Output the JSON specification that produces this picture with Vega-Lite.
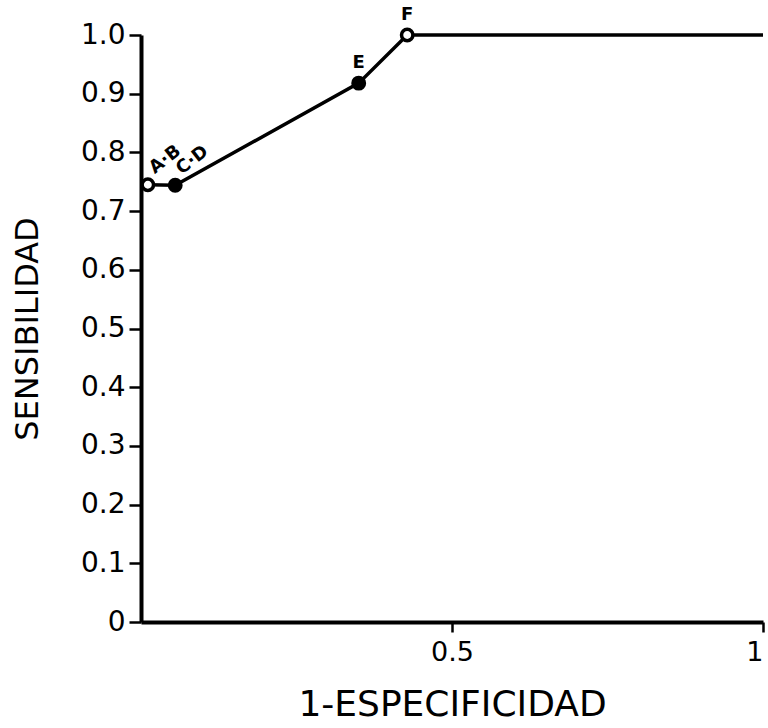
{
  "$schema": "https://vega.github.io/schema/vega-lite/v6.json",
  "autosize": "none",
  "width": 622,
  "height": 587,
  "padding": {"left": 141, "top": 35, "right": 5, "bottom": 106},
  "background": "white",
  "config": {
    "view": {"stroke": null},
    "axis": {"grid": false, "domainColor": "black", "tickColor": "black", "labelColor": "black", "titleColor": "black", "labelFont": "DejaVu Sans", "titleFont": "DejaVu Sans", "titleFontWeight": "normal", "domainWidth": 4, "tickWidth": 2.5}
  },
  "data": {
    "values": [
      {"x": 0.011, "y": 0.745, "label": "A·B", "kind": "open", "grp": "ab"},
      {"x": 0.055, "y": 0.744, "label": "C·D", "kind": "filled", "grp": "ab"},
      {"x": 0.35, "y": 0.918, "label": "E", "kind": "filled", "grp": "ef"},
      {"x": 0.428, "y": 1.0, "label": "F", "kind": "open", "grp": "ef"},
      {"x": 1.0, "y": 1.0, "label": "", "kind": "none", "grp": "end"}
    ]
  },
  "encoding": {
    "x": {
      "field": "x", "type": "quantitative",
      "scale": {"domain": [0, 1], "nice": false, "zero": true},
      "axis": {"title": "1-ESPECIFICIDAD", "titleFontSize": 36, "titlePadding": 22, "values": [0.5, 1], "labelExpr": "datum.value == 1 ? '1' : '0.5'", "labelFontSize": 27, "tickSize": 10, "labelPadding": 7, "labelFlush": true}
    },
    "y": {
      "field": "y", "type": "quantitative",
      "scale": {"domain": [0, 1], "nice": false},
      "axis": {"title": "SENSIBILIDAD", "titleFontSize": 32, "titlePadding": 36, "values": [0, 0.1, 0.2, 0.3, 0.4, 0.5, 0.6, 0.7, 0.8, 0.9, 1.0], "labelExpr": "datum.value == 0 ? '0' : format(datum.value, '.1f')", "labelFontSize": 28, "tickSize": 12, "labelPadding": 4, "labelFlush": false}
    }
  },
  "layer": [
    {"mark": {"type": "line", "color": "black", "strokeWidth": 3.5}},
    {
      "transform": [{"filter": "datum.kind != 'none'"}],
      "mark": {"type": "point", "shape": "circle", "size": 130, "stroke": "black", "strokeWidth": 3.5, "opacity": 1},
      "encoding": {
        "fill": {"field": "kind", "type": "nominal", "scale": {"domain": ["open", "filled"], "range": ["white", "black"]}, "legend": null}
      }
    },
    {
      "transform": [{"filter": "datum.grp == 'ab'"}],
      "mark": {"type": "text", "angle": 322, "dx": 29, "dy": -9, "align": "center", "baseline": "middle", "fontSize": 18, "fontWeight": "bold", "font": "DejaVu Sans", "color": "black"},
      "encoding": {"text": {"field": "label"}}
    },
    {
      "transform": [{"filter": "datum.grp == 'ef'"}],
      "mark": {"type": "text", "dy": -20, "align": "center", "baseline": "middle", "fontSize": 18, "fontWeight": "bold", "font": "DejaVu Sans", "color": "black"},
      "encoding": {"text": {"field": "label"}}
    }
  ]
}
